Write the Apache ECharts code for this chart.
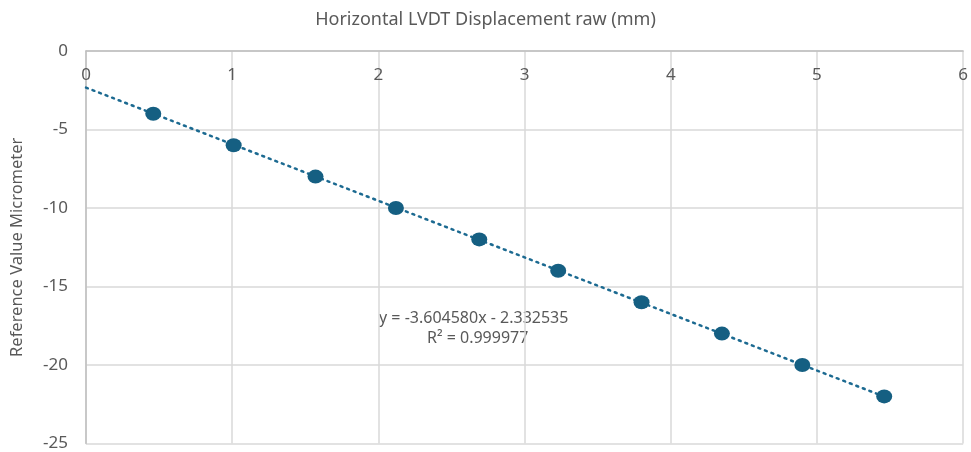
<!DOCTYPE html>
<html>
<head>
<meta charset="utf-8">
<script src="https://cdn.jsdelivr.net/npm/echarts@6/dist/echarts.min.js"></script>
<style>html,body{margin:0;padding:0;background:#fff}#c{width:971px;height:452px}</style>
</head>
<body>
<div id="c"></div>
<script>
const xValues = [0.46, 1.01, 1.57, 2.12, 2.69, 3.23, 3.80, 4.35, 4.90, 5.46];
const yValues = [-4, -6, -8, -10, -12, -14, -16, -18, -20, -22];
const trendX = [0, 5.46];
const trendY = [-2.33, -22.01];
const equationText = 'y = -3.604580x - 2.332535';
const r2Text = 'R² = 0.999977';
const titleText = 'Horizontal LVDT Displacement raw (mm)';
const yAxisName = 'Reference Value Micrometer';

const font = '"Noto Sans", sans-serif';
const grey = '#595959';
const chart = echarts.init(document.getElementById('c'));
chart.setOption({
  animation: false,
  title: {
    text: titleText, left: 'center', top: 6,
    textStyle: {fontFamily: font, fontSize: 18, fontWeight: 'normal', color: grey}
  },
  grid: {left: 86, right: 6, top: 51, bottom: 8},
  xAxis: {
    type: 'value', position: 'top', min: 0, max: 6, interval: 1,
    axisLine: {show: true, lineStyle: {color: '#bfbfbf', width: 1.5}},
    axisTick: {show: false},
    axisLabel: {inside: true, margin: 16, fontFamily: font, fontSize: 17, color: grey, verticalAlign: 'top'},
    splitLine: {show: true, lineStyle: {color: '#d9d9d9', width: 1.5}}
  },
  yAxis: {
    type: 'value', min: -25, max: 0, interval: 5,
    name: yAxisName, nameLocation: 'middle', nameGap: 60, nameRotate: 90,
    nameTextStyle: {fontFamily: font, fontSize: 16.5, color: grey},
    axisLine: {show: true, onZero: false, lineStyle: {color: '#bfbfbf', width: 1.5}},
    axisTick: {show: false},
    axisLabel: {margin: 18, fontFamily: font, fontSize: 17, color: grey},
    splitLine: {show: true, lineStyle: {color: '#d9d9d9', width: 1.5}}
  },
  series: [
    {
      type: 'line', data: trendX.map((x, i) => [x, trendY[i]]),
      showSymbol: false, symbol: 'none',
      lineStyle: {color: '#1c6a91', width: 2.5, type: [2, 5], cap: 'round'},
      z: 2
    },
    {
      type: 'scatter', data: xValues.map((x, i) => [x, yValues[i]]),
      symbol: 'circle', symbolSize: [16, 14],
      itemStyle: {color: '#155f82', opacity: 1}, z: 3
    }
  ],
  graphic: [
    {type: 'text', left: 379, top: 310, style: {text: equationText, fontFamily: font, fontSize: 16, fill: grey}},
    {type: 'text', left: 427, top: 330, style: {text: r2Text, fontFamily: font, fontSize: 16, fill: grey}}
  ]
});
</script>
</body>
</html>
